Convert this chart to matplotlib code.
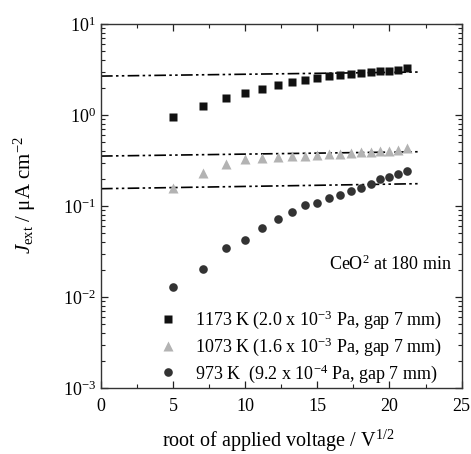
import matplotlib
matplotlib.use("Agg")
import matplotlib.pyplot as plt
from matplotlib.ticker import LogLocator, MultipleLocator, LogFormatterMathtext, NullFormatter

plt.rcParams['font.family'] = ['Liberation Serif', 'DejaVu Serif']
plt.rcParams['mathtext.fontset'] = 'custom'
plt.rcParams['mathtext.rm'] = 'Liberation Serif'
plt.rcParams['mathtext.it'] = 'Liberation Serif:italic'
plt.rcParams['mathtext.bf'] = 'Liberation Serif:bold'

# x: root of applied voltage (V^1/2)
x_vals = [5.0, 7.07, 8.66, 10.0, 11.18, 12.25, 13.23, 14.14, 15.0, 15.81,
          16.58, 17.32, 18.03, 18.71, 19.36, 20.0, 20.62, 21.21]

j_1173 = [0.96, 1.26, 1.54, 1.73, 1.95, 2.15, 2.31, 2.42, 2.53, 2.68,
          2.73, 2.80, 2.87, 2.99, 3.05, 3.07, 3.12, 3.26]
j_1073 = [0.158, 0.229, 0.29, 0.326, 0.34, 0.343, 0.355, 0.357, 0.363, 0.37,
          0.373, 0.38, 0.39, 0.392, 0.40, 0.405, 0.413, 0.434]
j_973 = [0.0128, 0.0201, 0.0343, 0.042, 0.0569, 0.072, 0.0859, 0.102, 0.109, 0.124,
         0.131, 0.145, 0.159, 0.176, 0.198, 0.207, 0.226, 0.241]

# Fit lines (dash-dot-dot), endpoints at x=0 and x=22
fit_x = [0.0, 22.0]
fit_1173 = [2.68, 2.97]
fit_1073 = [0.354, 0.395]
fit_973 = [0.155, 0.176]

labels = ['1173 K (2.0 x 10$^{-3}$ Pa, gap 7 mm)',
          '1073 K (1.6 x 10$^{-3}$ Pa, gap 7 mm)',
          '973 K  (9.2 x 10$^{-4}$ Pa, gap 7 mm)']

fig = plt.figure(figsize=(4.71, 4.54), dpi=100)
ax = fig.add_axes([0.2144, 0.1454, 0.7656, 0.8016])

ls = (0, (7, 2, 1.5, 2, 1.5, 2))
for fy in (fit_1173, fit_1073, fit_973):
    ax.plot(fit_x, fy, color='black', lw=1.2, linestyle=ls, zorder=2)

h1, = ax.plot(x_vals, j_1173, 's', color='#111111', ms=5.6, mec='none', zorder=3)
h2, = ax.plot(x_vals, j_1073, '^', color='#b3b3b3', ms=7.5, mec='none', zorder=3)
h3, = ax.plot(x_vals, j_973, 'o', color='#333333', ms=6.2, mec='none', zorder=3)

ax.set_yscale('log')
ax.set_xlim(0, 25)
ax.set_ylim(1e-3, 1e1)
ax.xaxis.set_major_locator(MultipleLocator(5))
ax.xaxis.set_minor_locator(MultipleLocator(2.5))
ax.yaxis.set_major_locator(LogLocator(base=10, numticks=10))
ax.yaxis.set_minor_locator(LogLocator(base=10, subs=range(2, 10), numticks=20))
ax.yaxis.set_major_formatter(LogFormatterMathtext())
ax.yaxis.set_minor_formatter(NullFormatter())

ax.tick_params(which='both', direction='in', top=True, right=True, colors='#222222',
               labelcolor='black', labelsize=13)
ax.tick_params(which='major', length=5, width=0.9)
ax.tick_params(which='minor', length=3, width=0.8)
ax.tick_params(axis='x', which='major', pad=7)
for s in ax.spines.values():
    s.set_color('#333333')
    s.set_linewidth(1.0)

ax.set_xlabel('root of applied voltage / V$^{1/2}$', fontsize=14.5, va='center')
ax.xaxis.set_label_coords(0.49, -0.145)
ax.set_ylabel('$J_{\\mathrm{ext}}$ / μA cm$^{-2}$', fontsize=15, va='center')
ax.yaxis.set_label_coords(-0.212, 0.53)

ax.text(0.975, 0.34, 'CeO$^2$ at 180 min', transform=ax.transAxes, ha='right',
        va='center', fontsize=13)

leg = ax.legend([h1, h2, h3], labels, loc='lower left', bbox_to_anchor=(0.12, -0.026),
                frameon=False, fontsize=13, handletextpad=0.9, labelspacing=0.24,
                handlelength=1.2, borderaxespad=0.3)

fig.savefig('out.png', dpi=100)
